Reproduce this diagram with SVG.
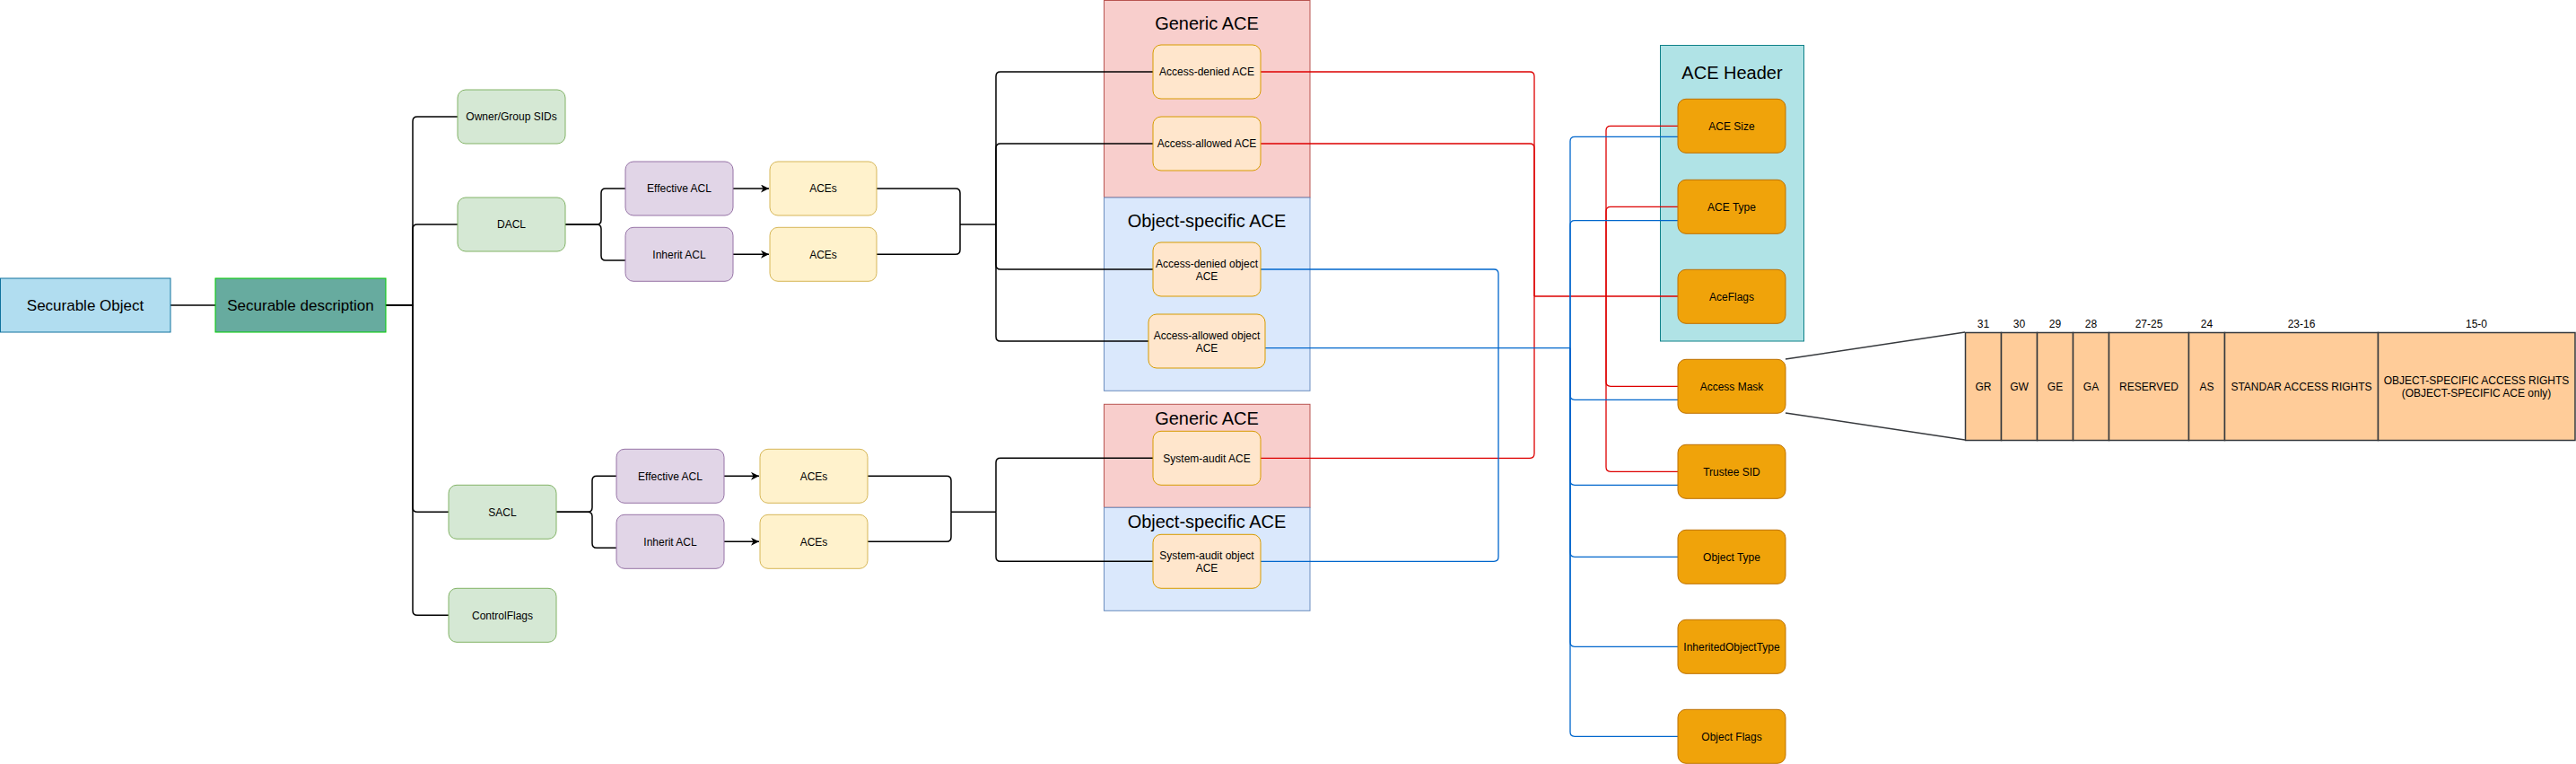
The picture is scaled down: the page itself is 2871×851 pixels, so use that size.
<svg xmlns="http://www.w3.org/2000/svg" width="2871" height="851" viewBox="0 0 2871 851">
<defs>
<style>
text{font-family:"Liberation Sans",Arial,Helvetica,sans-serif;fill:#000;text-anchor:middle}
.s12{font-size:12px}.s17{font-size:17px}.s20{font-size:20px}
.green{fill:#D5E8D4;stroke:#82B366}
.purple{fill:#E1D5E7;stroke:#9673A6}
.yellow{fill:#FFF2CC;stroke:#D6B656}
.ace{fill:#FFE6CC;stroke:#D79B00}
.hdr{fill:#F0A30A;stroke:#BD7000}
.gen{fill:#F8CECC;stroke:#B85450}
.obj{fill:#DAE8FC;stroke:#6C8EBF}
.aceh{fill:#B0E3E6;stroke:#0E8088}
.cell{fill:#FFCC99;stroke:#36393D;stroke-width:1.5}
.k{fill:none;stroke:#000;stroke-width:1.5}
.r{fill:none;stroke:#DD0000;stroke-width:1.3}
.b{fill:none;stroke:#0066CC;stroke-width:1.3}
.g{fill:none;stroke:#36393D;stroke-width:1.5}
</style>
<marker id="arr" markerWidth="10" markerHeight="10" refX="9" refY="4.5" orient="auto" markerUnits="userSpaceOnUse"><path d="M0,0 L9,4.5 L0,9 L2.5,4.5 Z" fill="#000"/></marker>
</defs>
<rect width="2871" height="851" fill="#FFFFFF"/>

<g id="containers">
<g id="generic-ace-1"><rect class="gen" x="1230.5" y="0.5" width="229.5" height="219.5"/><text class="s20" x="1345" y="33">Generic ACE</text></g>
<g id="object-ace-1"><rect class="obj" x="1230.5" y="220" width="229.5" height="215.3"/><text class="s20" x="1345" y="253">Object-specific ACE</text></g>
<g id="generic-ace-2"><rect class="gen" x="1230.5" y="450.3" width="229.5" height="115"/><text class="s20" x="1345" y="472.7">Generic ACE</text></g>
<g id="object-ace-2"><rect class="obj" x="1230.5" y="565.3" width="229.5" height="115"/><text class="s20" x="1345" y="588">Object-specific ACE</text></g>
<g id="ace-header"><rect class="aceh" x="1850.5" y="50.5" width="160" height="329.5"/><text class="s20" x="1930.5" y="88">ACE Header</text></g>
</g>

<g id="connectors">
<path class="k" d="M190,340 H240"/>
<path class="k" d="M430,340 H460 V135 Q460,130 465,130 H510"/>
<path class="k" d="M430,340 H460 V255 Q460,250 465,250 H510"/>
<path class="k" d="M430,340 H460 V565.3 Q460,570.3 465,570.3 H500"/>
<path class="k" d="M430,340 H460 V680.3 Q460,685.3 465,685.3 H500"/>
<path class="k" d="M630,250 H665 Q670,250 670,245 V215 Q670,210 675,210 H697"/>
<path class="k" d="M630,250 H665 Q670,250 670,255 V285 Q670,290 675,290 H697"/>
<path class="k" d="M817,210 H857" marker-end="url(#arr)"/>
<path class="k" d="M817,283.3 H857" marker-end="url(#arr)"/>
<path class="k" d="M977,210 H1065 Q1070,210 1070,215 V250"/>
<path class="k" d="M977,283.3 H1065 Q1070,283.3 1070,278.3 V250"/>
<path class="k" d="M1070,250 H1110"/>
<path class="k" d="M1110,250 V85 Q1110,80 1115,80 H1285"/>
<path class="k" d="M1110,250 V165 Q1110,160 1115,160 H1285"/>
<path class="k" d="M1110,250 V295 Q1110,300 1115,300 H1285"/>
<path class="k" d="M1110,250 V375 Q1110,380 1115,380 H1280"/>
<path class="k" d="M620,570.3 H655 Q660,570.3 660,565.3 V535.3 Q660,530.3 665,530.3 H687"/>
<path class="k" d="M620,570.3 H655 Q660,570.3 660,575.3 V605.3 Q660,610.3 665,610.3 H687"/>
<path class="k" d="M807,530.3 H846" marker-end="url(#arr)"/>
<path class="k" d="M807,603.3 H846" marker-end="url(#arr)"/>
<path class="k" d="M967,530.3 H1055 Q1060,530.3 1060,535.3 V570.3"/>
<path class="k" d="M967,603.3 H1055 Q1060,603.3 1060,598.3 V570.3"/>
<path class="k" d="M1060,570.3 H1110"/>
<path class="k" d="M1110,570.3 V515.3 Q1110,510.3 1115,510.3 H1285"/>
<path class="k" d="M1110,570.3 V620.3 Q1110,625.3 1115,625.3 H1285"/>
<path class="r" d="M1405,80 H1705 Q1710,80 1710,85 V330"/>
<path class="r" d="M1405,160 H1705 Q1710,160 1710,165 V330"/>
<path class="r" d="M1405,510.3 H1705 Q1710,510.3 1710,505.3 V330"/>
<path class="r" d="M1710,330 H1870"/>
<path class="r" d="M1790,330 V145.3 Q1790,140.3 1795,140.3 H1870"/>
<path class="r" d="M1790,330 V235.3 Q1790,230.3 1795,230.3 H1870"/>
<path class="r" d="M1790,330 V425.3 Q1790,430.3 1795,430.3 H1870"/>
<path class="r" d="M1790,330 V520.3 Q1790,525.3 1795,525.3 H1870"/>
<path class="b" d="M1405,300 H1665 Q1670,300 1670,305 V387.7"/>
<path class="b" d="M1405,625.3 H1665 Q1670,625.3 1670,620.3 V387.7"/>
<path class="b" d="M1410,387.7 H1750"/>
<path class="b" d="M1750,387.7 V157.3 Q1750,152.3 1755,152.3 H1870"/>
<path class="b" d="M1750,387.7 V250.7 Q1750,245.7 1755,245.7 H1870"/>
<path class="b" d="M1750,387.7 V440.3 Q1750,445.3 1755,445.3 H1870"/>
<path class="b" d="M1750,387.7 V535.3 Q1750,540.3 1755,540.3 H1870"/>
<path class="b" d="M1750,387.7 V615.3 Q1750,620.3 1755,620.3 H1870"/>
<path class="b" d="M1750,387.7 V715.3 Q1750,720.3 1755,720.3 H1870"/>
<path class="b" d="M1750,387.7 V815.3 Q1750,820.3 1755,820.3 H1870"/>
<path class="g" d="M1990,400 L2190,370"/>
<path class="g" d="M1990,460 L2190,490"/>
</g>

<g id="securable-object"><rect x="0.5" y="310" width="189.5" height="60" fill="#B1DDF0" stroke="#10739E"/><text class="s17" x="95" y="346">Securable Object</text></g>
<g id="securable-description"><rect x="240" y="310" width="190" height="60" fill="#67AB9F" stroke="#00CC00"/><text class="s17" x="335" y="346">Securable description</text></g>
<g id="owner-group-sids"><rect class="green" x="510" y="100" width="120" height="60" rx="9"/><text class="s12" x="570" y="134.2">Owner/Group SIDs</text></g>
<g id="dacl"><rect class="green" x="510" y="220" width="120" height="60" rx="9"/><text class="s12" x="570" y="254.2">DACL</text></g>
<g id="sacl"><rect class="green" x="500" y="540.3" width="120" height="60" rx="9"/><text class="s12" x="560" y="574.5">SACL</text></g>
<g id="controlflags"><rect class="green" x="500" y="655.3" width="120" height="60" rx="9"/><text class="s12" x="560" y="689.5">ControlFlags</text></g>
<g id="dacl-effective-acl"><rect class="purple" x="697" y="180" width="120" height="60" rx="9"/><text class="s12" x="757" y="214.2">Effective ACL</text></g>
<g id="dacl-inherit-acl"><rect class="purple" x="697" y="253.3" width="120" height="60" rx="9"/><text class="s12" x="757" y="287.5">Inherit ACL</text></g>
<g id="dacl-aces-1"><rect class="yellow" x="858" y="180" width="119" height="60" rx="9"/><text class="s12" x="917.5" y="214.2">ACEs</text></g>
<g id="dacl-aces-2"><rect class="yellow" x="858" y="253.3" width="119" height="60" rx="9"/><text class="s12" x="917.5" y="287.5">ACEs</text></g>
<g id="sacl-effective-acl"><rect class="purple" x="687" y="500.3" width="120" height="60" rx="9"/><text class="s12" x="747" y="534.5">Effective ACL</text></g>
<g id="sacl-inherit-acl"><rect class="purple" x="687" y="573.3" width="120" height="60" rx="9"/><text class="s12" x="747" y="607.5">Inherit ACL</text></g>
<g id="sacl-aces-1"><rect class="yellow" x="847" y="500.3" width="120" height="60" rx="9"/><text class="s12" x="907" y="534.5">ACEs</text></g>
<g id="sacl-aces-2"><rect class="yellow" x="847" y="573.3" width="120" height="60" rx="9"/><text class="s12" x="907" y="607.5">ACEs</text></g>
<g id="access-denied-ace"><rect class="ace" x="1285" y="50" width="120" height="60" rx="9"/><text class="s12" x="1345" y="84.2">Access-denied ACE</text></g>
<g id="access-allowed-ace"><rect class="ace" x="1285" y="130" width="120" height="60" rx="9"/><text class="s12" x="1345" y="164.2">Access-allowed ACE</text></g>
<g id="access-denied-object-ace"><rect class="ace" x="1285" y="270" width="120" height="60" rx="9"/><text class="s12" x="1345" y="297.9">Access-denied object</text><text class="s12" x="1345" y="311.9">ACE</text></g>
<g id="access-allowed-object-ace"><rect class="ace" x="1280" y="350" width="130" height="60" rx="9"/><text class="s12" x="1345" y="377.9">Access-allowed object</text><text class="s12" x="1345" y="391.9">ACE</text></g>
<g id="system-audit-ace"><rect class="ace" x="1285" y="480.3" width="120" height="60" rx="9"/><text class="s12" x="1345" y="514.5">System-audit ACE</text></g>
<g id="system-audit-object-ace"><rect class="ace" x="1285" y="595.3" width="120" height="60" rx="9"/><text class="s12" x="1345" y="623.2">System-audit object</text><text class="s12" x="1345" y="637.2">ACE</text></g>
<g id="ace-size"><rect class="hdr" x="1870" y="110.3" width="120" height="60" rx="9"/><text class="s12" x="1930" y="144.5">ACE Size</text></g>
<g id="ace-type"><rect class="hdr" x="1870" y="200.3" width="120" height="60" rx="9"/><text class="s12" x="1930" y="234.5">ACE Type</text></g>
<g id="aceflags"><rect class="hdr" x="1870" y="300.3" width="120" height="60" rx="9"/><text class="s12" x="1930" y="334.5">AceFlags</text></g>
<g id="access-mask"><rect class="hdr" x="1870" y="400.3" width="120" height="60" rx="9"/><text class="s12" x="1930" y="434.5">Access Mask</text></g>
<g id="trustee-sid"><rect class="hdr" x="1870" y="495.3" width="120" height="60" rx="9"/><text class="s12" x="1930" y="529.5">Trustee SID</text></g>
<g id="object-type"><rect class="hdr" x="1870" y="590.3" width="120" height="60" rx="9"/><text class="s12" x="1930" y="624.5">Object Type</text></g>
<g id="inheritedobjecttype"><rect class="hdr" x="1870" y="690.3" width="120" height="60" rx="9"/><text class="s12" x="1930" y="724.5">InheritedObjectType</text></g>
<g id="object-flags"><rect class="hdr" x="1870" y="790.3" width="120" height="60" rx="9"/><text class="s12" x="1930" y="824.5">Object Flags</text></g>

<g id="access-mask-table">
<rect class="cell" x="2190.5" y="370.5" width="40" height="120"/>
<rect class="cell" x="2230.5" y="370.5" width="40" height="120"/>
<rect class="cell" x="2270.5" y="370.5" width="40" height="120"/>
<rect class="cell" x="2310.5" y="370.5" width="40" height="120"/>
<rect class="cell" x="2350.5" y="370.5" width="89" height="120"/>
<rect class="cell" x="2439.5" y="370.5" width="40" height="120"/>
<rect class="cell" x="2479.5" y="370.5" width="171" height="120"/>
<rect class="cell" x="2650.5" y="370.5" width="219.5" height="120"/>
<text class="s12" x="2210.5" y="365.2">31</text>
<text class="s12" x="2250.5" y="365.2">30</text>
<text class="s12" x="2290.5" y="365.2">29</text>
<text class="s12" x="2330.5" y="365.2">28</text>
<text class="s12" x="2395" y="365.2">27-25</text>
<text class="s12" x="2459.5" y="365.2">24</text>
<text class="s12" x="2565" y="365.2">23-16</text>
<text class="s12" x="2760" y="365.2">15-0</text>
<text class="s12" x="2210.5" y="434.5">GR</text>
<text class="s12" x="2250.5" y="434.5">GW</text>
<text class="s12" x="2290.5" y="434.5">GE</text>
<text class="s12" x="2330.5" y="434.5">GA</text>
<text class="s12" x="2395" y="434.5">RESERVED</text>
<text class="s12" x="2459.5" y="434.5">AS</text>
<text class="s12" x="2565" y="434.5">STANDAR ACCESS RIGHTS</text>
<text class="s12" x="2760" y="427.5">OBJECT-SPECIFIC ACCESS RIGHTS</text>
<text class="s12" x="2760" y="442.2">(OBJECT-SPECIFIC ACE only)</text>
</g>
</svg>
